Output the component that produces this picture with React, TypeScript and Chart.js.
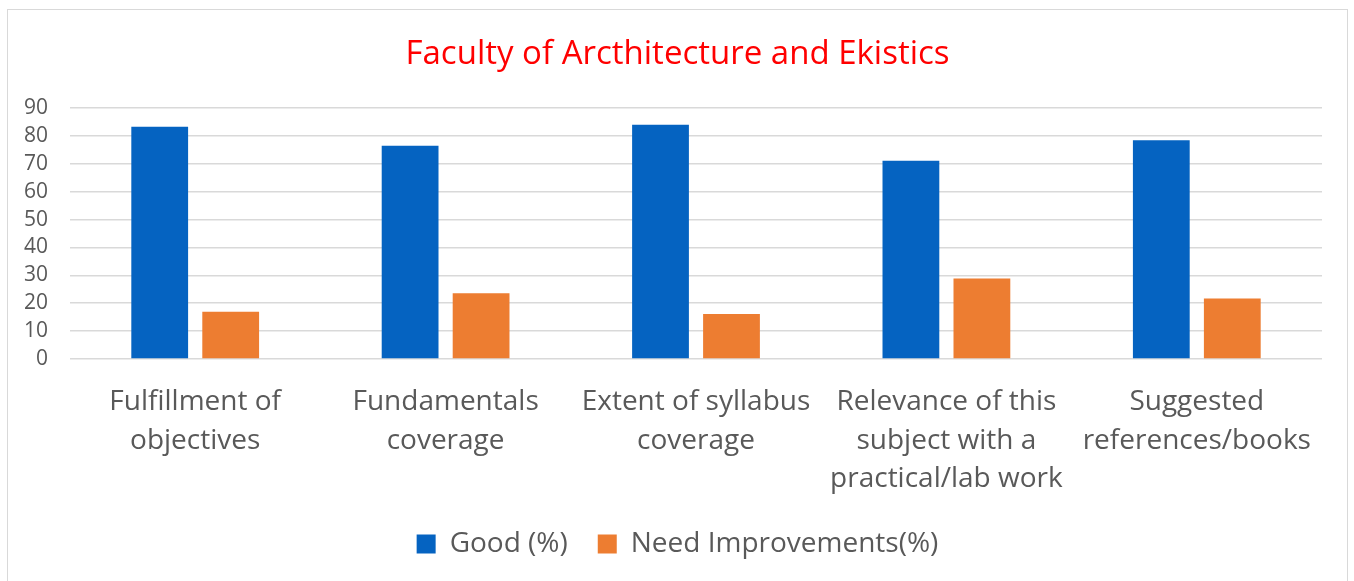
import React, { useEffect, useRef } from "react";
import { Chart, registerables } from "chart.js";
Chart.register(...registerables);

const chartTitle = "Faculty of Arcthitecture and Ekistics";
const categories: string[][] = [
  ["Fulfillment of", "objectives"],
  ["Fundamentals", "coverage"],
  ["Extent of syllabus", "coverage"],
  ["Relevance of this", "subject with a", "practical/lab work"],
  ["Suggested", "references/books"],
];
const seriesNames = ["Good (%)", "Need Improvements(%)"];
const goodValues = [83.3, 76.5, 84.0, 71.1, 78.4];
const needValues = [16.9, 23.6, 16.1, 28.9, 21.7];
const yMax = 90;
const yStep = 10;

const FONT = "'Open Sans', 'Noto Sans', sans-serif";
const GRAY = "#595959";

export default function App() {
  const ref = useRef<HTMLCanvasElement>(null);
  useEffect(() => {
    document.body.style.margin = "0";
    const chart = new Chart(ref.current!, {
      type: "bar",
      data: {
        labels: categories,
        datasets: [
          { label: seriesNames[0], data: goodValues, backgroundColor: "#0563C1", categoryPercentage: 0.567, barPercentage: 0.8 },
          { label: seriesNames[1], data: needValues, backgroundColor: "#ED7D31", categoryPercentage: 0.567, barPercentage: 0.8 },
        ],
      },
      options: {
        animation: false,
        responsive: true,
        maintainAspectRatio: false,
        layout: { padding: { left: 0, right: 0, top: 0, bottom: 14 } },
        plugins: {
          title: {
            display: true,
            text: chartTitle,
            color: "#FF0000",
            font: { family: FONT, size: 33, weight: "normal" },
            padding: { top: 25, bottom: 33.4 },
          },
          legend: {
            position: "bottom",
            labels: {
              color: GRAY,
              font: { family: FONT, size: 28 },
              boxWidth: 19,
              boxHeight: 19,
              padding: 30,
            },
          },
          tooltip: { enabled: false },
        },
        scales: {
          x: {
            grid: { display: false, drawTicks: false },
            border: { display: false },
            ticks: { color: GRAY, font: { family: FONT, size: 28, lineHeight: 1.375 }, padding: 24, maxRotation: 0, autoSkip: false },
            afterFit: (s: any) => { s.height = 141; },
          },
          y: {
            min: 0,
            max: yMax,
            ticks: { stepSize: yStep, autoSkip: false, color: GRAY, font: { family: FONT, size: 21 }, padding: 22 },
            grid: { color: "#d9d9d9", lineWidth: 1.5, drawTicks: false },
            border: { display: false },
            afterFit: (s: any) => { s.width = 62; },
          },
          yRightSpacer: {
            type: "linear",
            position: "right",
            display: true,
            ticks: { display: false },
            grid: { display: false, drawTicks: false },
            border: { display: false },
            afterFit: (s: any) => { s.width = 25; },
          },
        },
      },
    });
    return () => chart.destroy();
  }, []);
  return (
    <div style={{ position: "absolute", left: 7, top: 9, width: 1341, height: 574, border: "1px solid #d9d9d9", boxSizing: "border-box", background: "#fff" }}>
      <canvas ref={ref} />
    </div>
  );
}
